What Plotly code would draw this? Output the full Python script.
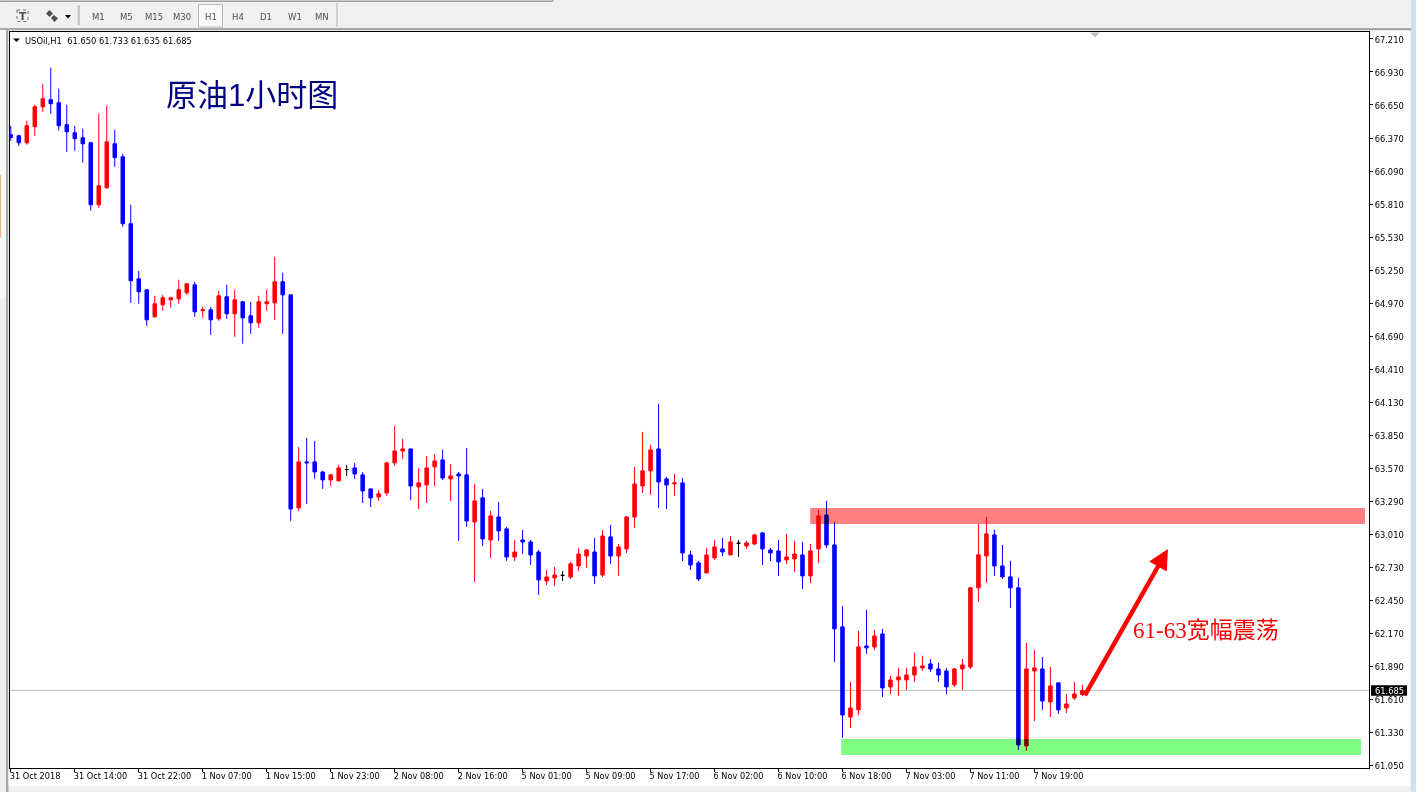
import plotly.graph_objects as go

# ---------- data (USOil H1) ----------
opens = [66.398,66.389,66.330,66.466,66.635,66.695,66.669,66.483,66.415,66.372,
66.330,65.804,65.948,66.321,66.211,65.643,65.176,65.083,64.854,64.955,
64.998,65.006,65.057,65.125,64.905,64.913,64.837,65.023,64.879,64.981,
64.862,64.803,64.964,64.972,65.151,65.040,63.233,63.623,63.623,63.538,
63.470,63.462,63.558,63.572,63.513,63.394,63.326,63.360,63.615,63.716,
63.733,63.411,63.428,63.581,63.640,63.479,63.521,63.513,63.114,63.318,
62.961,63.156,63.055,62.817,62.961,62.944,62.859,62.613,62.639,62.661,
62.647,62.741,62.825,62.859,62.664,62.987,62.825,62.885,63.156,63.419,
63.547,63.733,63.479,63.436,63.445,62.834,62.766,62.681,62.809,62.885,
62.834,62.933,62.910,62.927,63.021,62.876,62.868,62.792,62.800,62.834,
62.656,62.885,63.173,62.919,62.224,61.460,61.520,62.062,62.054,62.164,
61.715,61.774,61.774,61.816,61.876,61.910,61.867,61.850,61.732,61.867,
61.884,62.555,62.826,63.004,62.741,62.648,62.555,61.214,61.850,61.867,
61.587,61.749,61.536,61.621,61.650]
highs = [66.474,66.398,66.516,66.652,66.830,66.966,66.788,66.652,66.474,66.449,
66.338,66.576,66.644,66.440,66.237,65.804,65.244,65.083,65.032,65.040,
65.023,65.168,65.134,65.151,64.938,64.938,65.074,65.125,65.083,64.989,
64.981,65.032,65.083,65.363,65.227,65.040,63.750,63.827,63.801,63.547,
63.513,63.598,63.598,63.615,63.538,63.394,63.385,63.623,63.928,63.818,
63.733,63.572,63.674,63.691,63.725,63.606,63.538,63.742,63.436,63.394,
63.207,63.284,63.072,62.961,63.046,62.961,62.876,62.707,62.732,62.698,
62.775,62.893,62.885,62.978,63.046,63.088,62.927,63.165,63.581,63.878,
63.767,64.115,63.496,63.521,63.487,62.868,62.783,62.893,62.961,62.978,
62.995,62.961,62.953,63.012,63.029,62.893,62.961,63.012,62.953,62.944,
62.927,63.216,63.292,63.115,62.402,61.757,62.190,62.368,62.198,62.207,
61.808,61.876,61.876,62.003,61.978,61.952,61.918,61.876,61.876,61.952,
62.563,63.098,63.157,63.047,62.919,62.784,62.639,62.088,62.029,61.969,
61.884,61.749,61.655,61.757,61.733]
lows = [66.347,66.304,66.313,66.389,66.593,66.576,66.432,66.253,66.262,66.160,
65.753,65.778,65.940,66.126,65.617,64.972,64.964,64.777,64.845,64.905,
64.930,64.964,65.040,64.854,64.845,64.701,64.820,64.837,64.684,64.625,
64.709,64.760,64.905,64.828,64.709,63.122,63.207,63.267,63.479,63.394,
63.419,63.462,63.504,63.479,63.275,63.241,63.292,63.335,63.589,63.648,
63.301,63.224,63.275,63.419,63.470,63.292,62.953,63.072,62.605,62.910,
62.809,62.953,62.783,62.783,62.842,62.749,62.495,62.579,62.571,62.613,
62.630,62.698,62.724,62.588,62.647,62.758,62.656,62.851,63.063,63.360,
63.343,63.233,63.224,63.335,62.783,62.707,62.613,62.681,62.792,62.825,
62.834,62.817,62.885,62.919,62.749,62.783,62.656,62.758,62.690,62.546,
62.596,62.766,62.893,61.927,61.282,61.367,61.477,61.995,62.029,61.630,
61.655,61.638,61.689,61.757,61.850,61.842,61.757,61.655,61.715,61.689,
61.867,62.436,62.597,62.656,62.631,62.385,61.180,61.172,61.426,61.520,
61.460,61.486,61.494,61.604,61.635]
closes = [66.375,66.330,66.474,66.635,66.703,66.661,66.474,66.423,66.364,66.321,
65.804,65.965,66.338,66.203,65.643,65.159,65.066,64.828,64.964,65.015,
65.015,65.083,65.134,64.896,64.913,64.828,65.032,64.879,64.998,64.845,
64.803,64.981,64.981,65.151,65.040,63.224,63.623,63.615,63.538,63.470,
63.513,63.572,63.558,63.521,63.377,63.318,63.352,63.615,63.716,63.733,
63.419,63.445,63.572,63.631,63.487,63.504,63.504,63.122,63.292,62.970,
63.165,63.038,62.817,62.859,62.944,62.834,62.622,62.647,62.664,62.661,
62.758,62.842,62.876,62.656,62.995,62.825,62.902,63.156,63.436,63.547,
63.725,63.453,63.428,63.445,62.851,62.749,62.630,62.834,62.902,62.859,
62.944,62.933,62.936,63.004,62.885,62.851,62.775,62.817,62.842,62.656,
62.868,63.165,62.919,62.207,61.477,61.536,62.054,62.046,62.147,61.706,
61.774,61.799,61.816,61.884,61.893,61.867,61.816,61.715,61.867,61.901,
62.555,62.835,63.013,62.741,62.648,62.555,61.223,61.867,61.876,61.596,
61.723,61.520,61.570,61.655,61.685]
doji_bars = [42, 69, 91]

time_labels = ["31 Oct 2018","31 Oct 14:00","31 Oct 22:00","1 Nov 07:00","1 Nov 15:00","1 Nov 23:00",
               "2 Nov 08:00","2 Nov 16:00","5 Nov 01:00","5 Nov 09:00","5 Nov 17:00","6 Nov 02:00",
               "6 Nov 10:00","6 Nov 18:00","7 Nov 03:00","7 Nov 11:00","7 Nov 19:00"]
time_ticks = [8 * k for k in range(len(time_labels))]
price_labels = ["61.050","61.330","61.610","61.890","62.170","62.450","62.730","63.010","63.290",
                "63.570","63.850","64.130","64.410","64.690","64.970","65.250","65.530","65.810",
                "66.090","66.370","66.650","66.930","67.210"]
price_ticks = [float(v) for v in price_labels]
last_price = 61.685
resistance_zone = (63.097, 63.233)
support_zone = (61.137, 61.273)
toolbar_periods = ["M1","M5","M15","M30","H1","H4","D1","W1","MN"]

# ---------- layout constants ----------
W, H = 1416, 792
L, R, T, B = 10, 47, 32, 24
XR = [-0.1, 169.84]
YR = [61.027, 67.269]
FONT = "DejaVu Sans"

def px(x): return (x - L) / (W - L - R)
def py(y): return 1 - (y - T) / (H - T - B)

bars = list(range(len(opens)))
reg = [i for i in bars if i not in doji_bars]
pick = lambda arr, idx: [arr[i] for i in idx]

fig = go.Figure()
fig.add_trace(go.Candlestick(
    x=reg, open=pick(opens, reg), high=pick(highs, reg), low=pick(lows, reg), close=pick(closes, reg),
    increasing=dict(line=dict(color="#ff0000", width=1), fillcolor="#ff0000"),
    decreasing=dict(line=dict(color="#0000ff", width=1), fillcolor="#0000ff"),
    whiskerwidth=0, showlegend=False, hoverinfo="skip"))
fig.add_trace(go.Candlestick(
    x=doji_bars, open=pick(opens, doji_bars), high=pick(highs, doji_bars),
    low=pick(lows, doji_bars), close=pick(closes, doji_bars),
    increasing=dict(line=dict(color="#000000", width=1), fillcolor="#000000"),
    decreasing=dict(line=dict(color="#000000", width=1), fillcolor="#000000"),
    whiskerwidth=0, showlegend=False, hoverinfo="skip"))

def prect(x0, y0, x1, y1, fill, line=None, layer="below", dash=None, lw=1):
    return dict(type="rect", xref="paper", yref="paper", x0=px(x0), x1=px(x1), y0=py(y0), y1=py(y1),
                fillcolor=fill, line=dict(color=line or "rgba(0,0,0,0)", width=lw if line else 0, dash=dash or "solid"),
                layer=layer)

def ppath(points, fill):
    d = "M" + " L".join(f"{px(a)},{py(b)}" for a, b in points) + " Z"
    return dict(type="path", xref="paper", yref="paper", path=d, fillcolor=fill, line=dict(width=0), layer="above")

shapes = [
    # window chrome
    prect(0, 0, 553, 1.5, "#f0f0f0", "#a0a0a0"),
    prect(0, 28, 1411, 30.5, "#a8a8a8"),
    prect(6, 30, 8.5, 792, "#a8a8a8"),
    prect(8.5, 30.5, 1410, 786, "#ffffff"),
    prect(1411, 0, 1416, 792, "#cfe0f0"),
    prect(0, 30, 6, 300, "#f4fbf4"),
    prect(0, 175, 1, 238, "#e8b880"),
    prect(0, 298, 6, 792, "#f0f0f0"),
    # toolbar
    prect(198.5, 4.5, 222.5, 27, "#f8f8f8", "#b8b8b8"),
    prect(17, 10, 28, 21.5, "rgba(0,0,0,0)", "#707070", dash="dot"),
    prect(77.5, 5, 80, 25, "#c8c8c8"),
    prect(336.5, 3, 337.5, 27, "#b0b0b0"),
    ppath([(65, 15), (71, 15), (68, 18.5)], "#000000"),
    ppath([(46, 13.5), (49.5, 10), (53, 13.5), (49.5, 17)], "#505050"),
    ppath([(51, 18), (54, 15), (58, 18.5), (54.5, 22)], "#505050"),
    # chart marks
    ppath([(13, 38.5), (20, 38.5), (16.5, 42)], "#000000"),
    ppath([(1090, 32.5), (1100, 32.5), (1095, 37.5)], "#c0c0c0"),
    dict(type="line", xref="paper", yref="y", x0=0, x1=1, y0=last_price, y1=last_price,
         line=dict(color="#c0c0c0", width=1), layer="below"),
    dict(type="rect", xref="x", yref="y", x0=99.96, x1=169.34, y0=resistance_zone[0], y1=resistance_zone[1],
         fillcolor="#ff8080", line=dict(width=0), layer="above"),
    dict(type="rect", xref="x", yref="y", x0=103.84, x1=168.84, y0=support_zone[0], y1=support_zone[1],
         fillcolor="#80ff80", line=dict(width=0), layer="above"),
    prect(1371, 685.3, 1407, 695.8, "#000000", layer="above"),
]

def label(x, y, text, size=8, color="#000000", anchor="left", family=FONT, **kw):
    return dict(xref="paper", yref="paper", x=px(x), y=py(y), text=text, showarrow=False, xanchor=anchor,
                yanchor="middle", font=dict(size=size, color=color, family=family), **kw)

period_x = [98, 126, 154, 182, 210.5, 238, 266, 295, 322]
annotations = [label(x, 16.5, t, 8.5, "#505050", "center") for x, t in zip(period_x, toolbar_periods)]
annotations += [
    label(22.5, 16, "<b>T</b>", 10.5, "#505050", "center"),
    label(23, 41, "USOil,H1  61.650 61.733 61.635 61.685", 8.35),
    label(164, 95, "原油1小时图", 31, "#000080", family="Liberation Sans, Noto Sans CJK SC"),
    label(1130.5, 630, "61-63宽幅震荡", 23, "#ff0000", family="Liberation Serif, Noto Sans CJK SC"),
    label(1372.5, 690.7, f"{last_price:.3f}", 8.3, "#ffffff"),
    dict(xref="x", yref="y", axref="x", ayref="y", x=144.7, y=62.885, ax=134.2, ay=61.63, text="",
         showarrow=True, arrowhead=2, arrowsize=0.9, arrowwidth=4.5, arrowcolor="#ff0000"),
]

fig.update_layout(
    width=W, height=H, margin=dict(l=L, r=R, t=T, b=B, pad=0, autoexpand=False),
    paper_bgcolor="#f0f0f0", plot_bgcolor="rgba(0,0,0,0)", showlegend=False, boxmode="overlay", boxgap=0.38,
    font=dict(family=FONT, size=8, color="#000000"), shapes=shapes, annotations=annotations,
    xaxis=dict(range=XR, rangeslider=dict(visible=False), showgrid=False, zeroline=False, showline=True,
               linecolor="#000000", linewidth=1, mirror=True, ticks="outside", ticklen=3, tickcolor="#000000",
               tickvals=time_ticks, ticktext=time_labels, ticklabelposition="outside right", tickangle=0,
               ticklabelshift=-2, tickfont=dict(size=8.2, family=FONT, color="#000000")),
    yaxis=dict(range=YR, side="right", showgrid=False, zeroline=False, showline=True, linecolor="#000000",
               linewidth=1, mirror=True, ticks="outside", ticklen=3, tickcolor="#000000", ticklabelshift=1,
               tickvals=price_ticks, ticktext=price_labels, tickfont=dict(size=8.3, family=FONT, color="#000000")),
)

post = """
document.documentElement.style.margin='0';document.body.style.margin='0';document.body.style.overflow='hidden';
var st=document.createElement('style');
st.textContent=".shapelayer g:has(> path[style*='255, 128, 128']),.shapelayer g:has(> path[style*='128, 255, 128']){mix-blend-mode:multiply;}";
document.head.appendChild(st);
"""
fig.write_html("out.html", post_script=post, config={"displayModeBar": False})
